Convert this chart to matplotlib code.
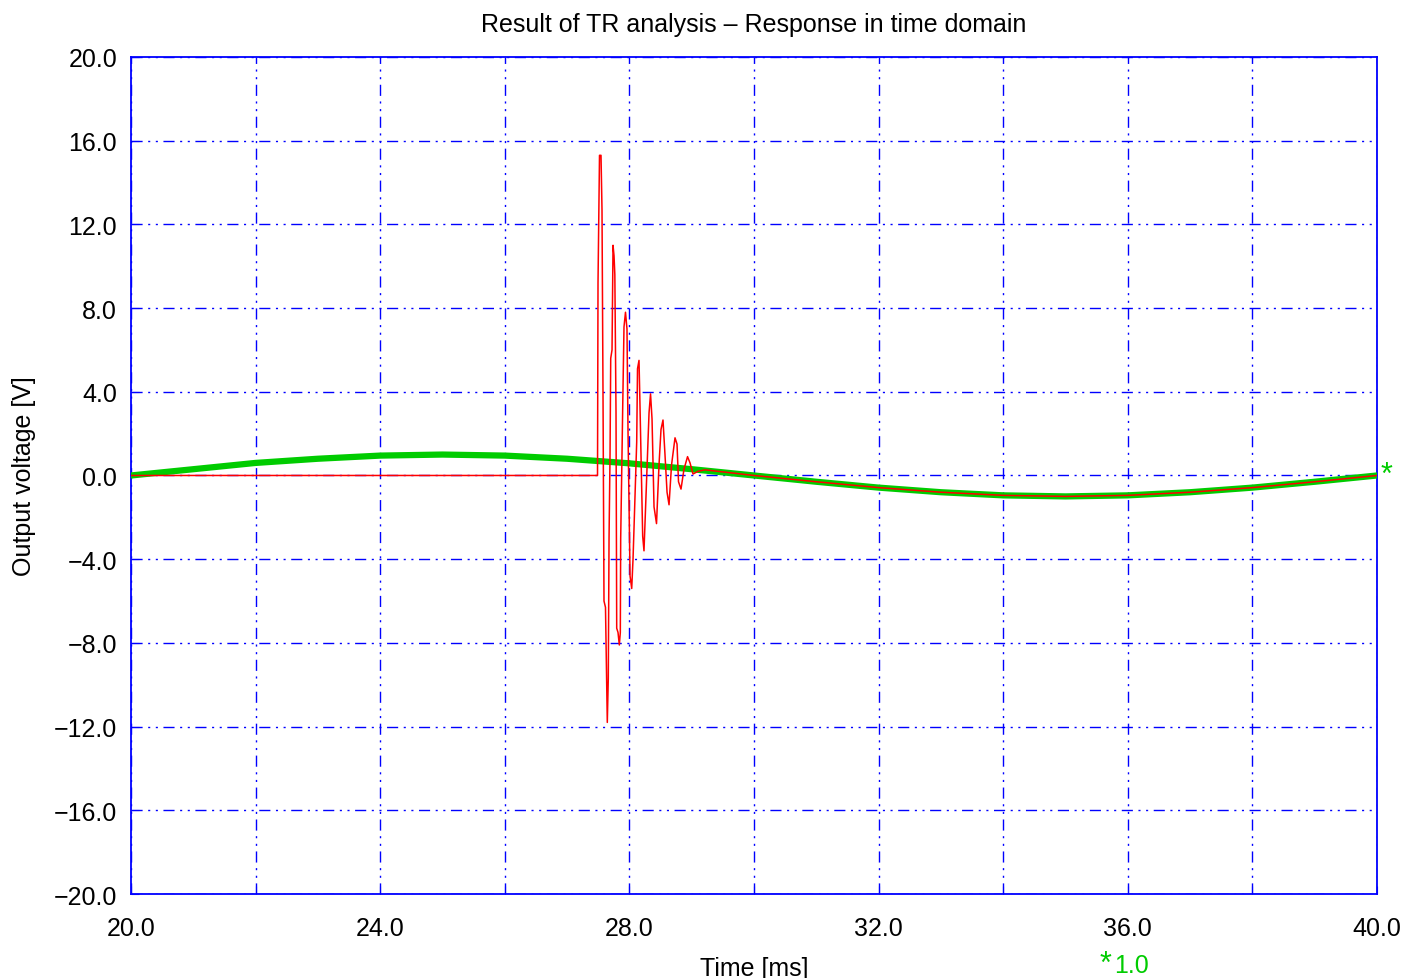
import matplotlib
matplotlib.use("Agg")
import matplotlib.pyplot as plt
import numpy as np

plt.rcParams['font.family'] = ['Liberation Sans', 'DejaVu Sans']

# smooth (green) response, read at 1 ms steps
t_green = [20, 21, 22, 23, 24, 25, 26, 27, 28, 29, 30,
           31, 32, 33, 34, 35, 36, 37, 38, 39, 40]
v_green = [0.0, 0.3, 0.6, 0.8, 0.95, 1.0, 0.95, 0.8, 0.58, 0.3, 0.0,
           -0.3, -0.58, -0.8, -0.95, -1.0, -0.95, -0.8, -0.58, -0.3, 0.0]

# red response: flat, ringing burst, then it follows the green curve
t_red = [20.0, 27.488, 27.496, 27.520, 27.544, 27.560, 27.576, 27.592, 27.616,
         27.645, 27.661, 27.673, 27.689, 27.700, 27.721, 27.737, 27.753, 27.766,
         27.785, 27.796, 27.817, 27.838, 27.854, 27.860, 27.881, 27.892, 27.913,
         27.937, 27.961, 27.978, 28.010, 28.037, 28.058, 28.074, 28.117, 28.130,
         28.154, 28.170, 28.213, 28.234, 28.266, 28.315, 28.339, 28.363, 28.395,
         28.435, 28.475, 28.507, 28.539, 28.571, 28.604, 28.636, 28.676, 28.732,
         28.764, 28.788, 28.828, 28.876, 28.933, 28.973, 29.021, 29.101, 29.213,
         30, 31, 32, 33, 34, 35, 36, 37, 38, 39, 40]
v_red = [0.0, 0.0, 9.2, 15.3, 15.3, 12.7, 4.0, -6.0, -6.3,
         -11.8, -9.7, -3.0, 1.0, 5.6, 6.0, 11.0, 10.5, 9.6,
         3.0, -7.3, -7.5, -8.1, -7.5, -3.0, 1.0, 3.2, 7.1,
         7.8, 7.0, 2.0, -4.8, -5.4, -4.0, -2.5, 1.6, 5.1,
         5.5, 3.3, -2.9, -3.6, -1.0, 3.0, 3.9, 2.7, -1.5,
         -2.3, 0.5, 2.2, 2.65, 1.0, -0.8, -1.4, 0.5, 1.8,
         1.5, -0.3, -0.65, 0.3, 0.9, 0.6, 0.07, 0.2, 0.27,
         0.0, -0.3, -0.58, -0.8, -0.95, -1.0, -0.95, -0.8, -0.58, -0.3, 0.0]

x_ticks = np.arange(20, 41, 2)
x_labels = ["20.0", "", "24.0", "", "28.0", "", "32.0", "", "36.0", "", "40.0"]
y_ticks = np.arange(-20, 21, 4)
y_labels = ["\u221220.0", "\u221216.0", "\u221212.0", "\u22128.0", "\u22124.0", "0.0",
            "4.0", "8.0", "12.0", "16.0", "20.0"]

fig = plt.figure(figsize=(14.04, 9.79), dpi=100)
ax = fig.add_axes([0.0933, 0.0858, 0.8875, 0.855])

ax.plot(t_green, v_green, color='#00cc00', linewidth=4.5, zorder=3)
ax.plot(t_red, v_red, color='#ff0000', linewidth=1.1, zorder=4)

ax.set_xlim(20, 40)
ax.set_ylim(-20, 20)
ax.set_xticks(x_ticks)
ax.set_xticklabels(x_labels)
ax.set_yticks(y_ticks)
ax.set_yticklabels(y_labels)
ax.tick_params(direction='in', color='blue', length=6, labelsize=18)
ax.tick_params(axis='x', pad=16)
ax.tick_params(axis='y', pad=10)

ax.grid(True, color='blue', linewidth=1.0, linestyle=(0, (8, 4, 1.5, 4, 1.5, 4)), zorder=1)
for s in ax.spines.values():
    s.set_color('blue')
    s.set_linewidth(1.3)

ax.set_title("Result of TR analysis \u2013 Response in time domain", fontsize=18, pad=19)
ax.set_xlabel("Time [ms]", fontsize=18, labelpad=11)
ax.set_ylabel("Output voltage [V]", fontsize=18, labelpad=13)

# scale-factor marks of the green trace
ax.text(40.05, -0.36, "*", color='#00cc00', fontsize=22, ha='left', va='baseline',
        clip_on=False)
ax.text(0.777, -0.0932, "*", color='#00cc00', fontsize=22, transform=ax.transAxes,
        ha='left', va='baseline')
ax.text(0.789, -0.0932, "1.0", color='#00cc00', fontsize=18, transform=ax.transAxes,
        ha='left', va='baseline')

fig.savefig("out.png", dpi=100)
